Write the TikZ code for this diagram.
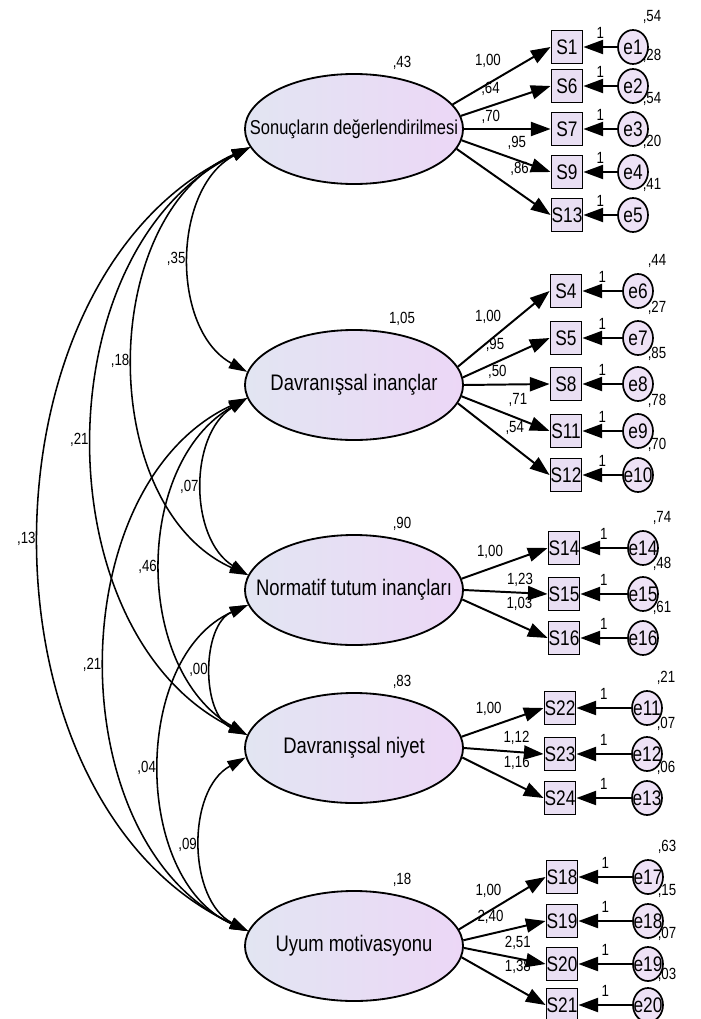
\documentclass[tikz,border=0pt]{standalone}
\usepackage{fontspec}
\setmainfont{Liberation Sans}[FakeStretch=0.82]
\usetikzlibrary{shapes.geometric, arrows.meta}

\definecolor{latleft}{RGB}{226,229,242}
\definecolor{latright}{RGB}{236,215,246}
\definecolor{obsfill}{RGB}{233,223,243}
\definecolor{errfill}{RGB}{238,226,246}

\tikzset{
  latent/.style={ellipse, draw, line width=1.3pt, minimum width=5.45cm, minimum height=2.75cm,
    inner sep=0pt, left color=latleft, right color=latright,
    label={[font=\fontsize{16}{18}\selectfont]center:#1}},
  obs/.style={rectangle, draw, line width=1.3pt, fill=obsfill, minimum width=7.75mm,
    minimum height=8.25mm, inner sep=0pt, font=\fontsize{15}{16}\selectfont},
  err/.style={ellipse, draw, line width=1.2pt, fill=errfill, minimum width=7.5mm,
    minimum height=8.5mm, inner sep=0pt,
    label={[font=\fontsize{15}{16}\selectfont, inner sep=0pt]center:#1}},
  num/.style={font=\fontsize{11.5}{12}\selectfont, inner sep=1pt},
  var/.style={label={[num, xshift=4.75mm, yshift=7.5mm]center:{#1}}},
  fvar/.style={label={[num, xshift=12mm, yshift=16.5mm]center:{#1}}},
  load/.style={-{Triangle[length=14pt, width=10pt]}, line width=1.4pt},
  cov/.style={{Triangle[length=13pt, width=8pt]}-{Triangle[length=13pt, width=8pt]},
    line width=1.1pt, bend right=#1},
}

\begin{document}
\begin{tikzpicture}[x=0.025cm, y=-0.025cm]
    \useasboundingbox (0,0) rectangle (700,1019);

    % Latent factors
    \node[latent={\fontsize{14.3}{16}\selectfont Sonuçların değerlendirilmesi}, fvar={,43}] (sonuc) at (354,129) {};
    \node[latent={Davranışsal inançlar}, fvar={1,05}] (davinanc) at (354,385) {};
    \node[latent={Normatif tutum inançları}, fvar={,90}] (normatif) at (354,590) {};
    \node[latent={Davranışsal niyet}, fvar={,83}] (davniyet) at (354,748) {};
    \node[latent={Uyum motivasyonu}, fvar={,18}] (uyum) at (354,946) {};

    % Indicators of Sonuçların değerlendirilmesi
    \node[obs] (S1) at (567,47) {S1};
    \node[obs] (S6) at (567,86) {S6};
    \node[obs] (S7) at (567,129) {S7};
    \node[obs] (S9) at (567,172) {S9};
    \node[obs] (S13) at (567,215) {S13};
    \node[err=e1, var={,54}] (e1) at (633,47) {};
    \node[err=e2, var={,28}] (e2) at (633,86) {};
    \node[err=e3, var={,54}] (e3) at (633,129) {};
    \node[err=e4, var={,20}] (e4) at (633,172) {};
    \node[err=e5, var={,41}] (e5) at (633,215) {};

    % Indicators of Davranışsal inançlar
    \node[obs] (S4) at (566,291) {S4};
    \node[obs] (S5) at (566,338) {S5};
    \node[obs] (S8) at (566,384) {S8};
    \node[obs] (S11) at (566,431) {S11};
    \node[obs] (S12) at (566,475) {S12};
    \node[err=e6, var={,44}] (e6) at (638,291) {};
    \node[err=e7, var={,27}] (e7) at (638,338) {};
    \node[err=e8, var={,85}] (e8) at (638,384) {};
    \node[err=e9, var={,78}] (e9) at (638,431) {};
    \node[err=e10, var={,70}] (e10) at (638,475) {};

    % Indicators of Normatif tutum inançları
    \node[obs] (S14) at (564,548) {S14};
    \node[obs] (S15) at (564,594) {S15};
    \node[obs] (S16) at (564,638) {S16};
    \node[err=e14, var={,74}] (e14) at (643,548) {};
    \node[err=e15, var={,48}] (e15) at (643,594) {};
    \node[err=e16, var={,61}] (e16) at (643,638) {};

    % Indicators of Davranışsal niyet
    \node[obs] (S22) at (560,708) {S22};
    \node[obs] (S23) at (560,754) {S23};
    \node[obs] (S24) at (560,798) {S24};
    \node[err=e11, var={,21}] (e11) at (647,708) {};
    \node[err=e12, var={,07}] (e12) at (647,754) {};
    \node[err=e13, var={,06}] (e13) at (647,798) {};

    % Indicators of Uyum motivasyonu
    \node[obs] (S18) at (562,877) {S18};
    \node[obs] (S19) at (562,921) {S19};
    \node[obs] (S20) at (562,964) {S20};
    \node[obs] (S21) at (562,1005) {S21};
    \node[err=e17, var={,63}] (e17) at (648,877) {};
    \node[err=e18, var={,15}] (e18) at (648,921) {};
    \node[err=e19, var={,07}] (e19) at (648,964) {};
    \node[err=e20, var={,03}] (e20) at (648,1005) {};

    % Factor loadings
    \draw[load] (sonuc.14) -- (S1.west) node[num, pos=.36, above=9.7pt] {1,00};
    \draw[load] (sonuc.7) -- (S6.west) node[num, pos=.33, above=5.4pt] {,64};
    \draw[load] (sonuc.0) -- (S7.west) node[num, pos=.31, above=2.5pt] {,70};
    \draw[load] (sonuc.-6) -- (S9.west) node[num, pos=.62, above=6pt] {,95};
    \draw[load] (sonuc.-11) -- (S13.west) node[num, pos=.67, above=10.5pt] {,86};

    \draw[load] (davinanc.10) -- (S4.west) node[num, pos=.33, above=11.5pt] {1,00};
    \draw[load] (davinanc.4) -- (S5.west) node[num, pos=.37, above=6.5pt] {,95};
    \draw[load] (davinanc.0) -- (S8.west) node[num, pos=.39, above=2.9pt] {,50};
    \draw[load] (davinanc.-6) -- (S11.west) node[num, pos=.64, above=7pt] {,71};
    \draw[load] (davinanc.-10) -- (S12.west) node[num, pos=.62, above=8pt] {,54};

    \draw[load] (normatif.6) -- (S14.west) node[num, pos=.33, above=5.7pt] {1,00};
    \draw[load] (normatif.0) -- (S15.west) node[num, pos=.67, above=3pt] {1,23};
    \draw[load] (normatif.-5) -- (S16.west) node[num, pos=.67, above=8.5pt] {1,03};

    \draw[load] (davniyet.6) -- (S22.west) node[num, pos=.33, above=6.3pt] {1,00};
    \draw[load] (davniyet.0) -- (S23.west) node[num, pos=.66, above=3.9pt] {1,12};
    \draw[load] (davniyet.-5) -- (S24.west) node[num, pos=.67, above=9.3pt] {1,16};

    \draw[load] (uyum.9) -- (S18.west) node[num, pos=.34, above=8pt] {1,00};
    \draw[load] (uyum.3) -- (S19.west) node[num, pos=.33, above=6pt] {2,40};
    \draw[load] (uyum.-1) -- (S20.west) node[num, pos=.66, above=5pt] {2,51};
    \draw[load] (uyum.-6) -- (S21.west) node[num, pos=.67, above=9.7pt] {1,38};

    % Error terms
    \draw[load] (e1) -- (S1) node[num, midway, above=4pt] {1};
    \draw[load] (e2) -- (S6) node[num, midway, above=4pt] {1};
    \draw[load] (e3) -- (S7) node[num, midway, above=4pt] {1};
    \draw[load] (e4) -- (S9) node[num, midway, above=4pt] {1};
    \draw[load] (e5) -- (S13) node[num, midway, above=4pt] {1};
    \draw[load] (e6) -- (S4) node[num, midway, above=4pt] {1};
    \draw[load] (e7) -- (S5) node[num, midway, above=4pt] {1};
    \draw[load] (e8) -- (S8) node[num, midway, above=4pt] {1};
    \draw[load] (e9) -- (S11) node[num, midway, above=4pt] {1};
    \draw[load] (e10) -- (S12) node[num, midway, above=4pt] {1};
    \draw[load] (e14) -- (S14) node[num, midway, above=4pt] {1};
    \draw[load] (e15) -- (S15) node[num, midway, above=4pt] {1};
    \draw[load] (e16) -- (S16) node[num, midway, above=4pt] {1};
    \draw[load] (e11) -- (S22) node[num, midway, above=4pt] {1};
    \draw[load] (e12) -- (S23) node[num, midway, above=4pt] {1};
    \draw[load] (e13) -- (S24) node[num, midway, above=4pt] {1};
    \draw[load] (e17) -- (S18) node[num, midway, above=4pt] {1};
    \draw[load] (e18) -- (S19) node[num, midway, above=4pt] {1};
    \draw[load] (e19) -- (S20) node[num, midway, above=4pt] {1};
    \draw[load] (e20) -- (S21) node[num, midway, above=4pt] {1};

    % Covariances
    \draw[cov=62] (sonuc.190) to node[num, midway, left=2pt] {,35} (davinanc.173);
    \draw[cov=66] (sonuc.190) to node[num, midway, left=2pt] {,18} (normatif.172);
    \draw[cov=64] (sonuc.190) to node[num, midway, left=2pt] {,21} (davniyet.173);
    \draw[cov=65] (sonuc.190) to node[num, midway, left=2pt] {,13} (uyum.172);
    \draw[cov=58] (davinanc.187) to node[num, midway, left=2pt] {,07} (normatif.172);
    \draw[cov=60] (davinanc.187) to node[num, midway, left=2pt] {,46} (davniyet.173);
    \draw[cov=65] (davinanc.187) to node[num, midway, left=2pt] {,21} (uyum.172);
    \draw[cov=66] (normatif.188) to node[num, midway, left=2pt] {,00} (davniyet.173);
    \draw[cov=66] (normatif.188) to node[num, midway, left=2pt] {,04} (uyum.172);
    \draw[cov=62] (davniyet.185) to node[num, midway, left=2pt] {,09} (uyum.172);
\end{tikzpicture}
\end{document}
